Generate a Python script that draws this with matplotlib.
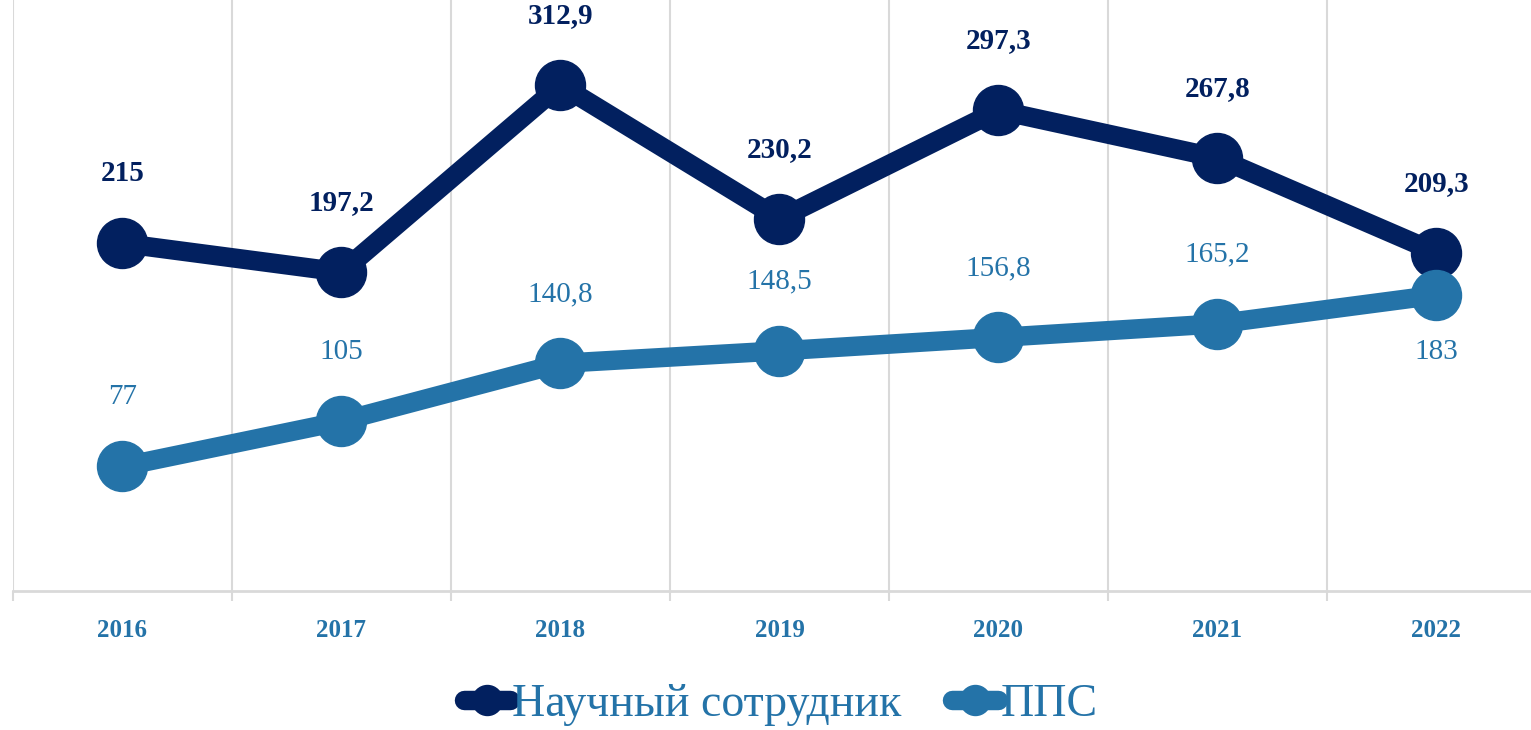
import matplotlib.pyplot as plt

years = ["2016", "2017", "2018", "2019", "2020", "2021", "2022"]
nauch = [215, 197.2, 312.9, 230.2, 297.3, 267.8, 209.3]
pps = [77, 105, 140.8, 148.5, 156.8, 165.2, 183]
series_names = ["Научный сотрудник", "ППС"]

dark = "#02205F"
light = "#2473A8"
grid_c = "#d9d9d9"

plt.rcParams['font.family'] = ['Liberation Serif', 'DejaVu Serif']

fig = plt.figure(figsize=(15.31, 7.3), dpi=100)
ax = fig.add_axes([13 / 1531, 1 - 591 / 730, 7 * 219 / 1531, 591 / 730])

x = list(range(len(years)))
ax.plot(x, nauch, color=dark, lw=14, marker='o', ms=36, solid_capstyle='round',
        label=series_names[0], zorder=3)
ax.plot(x, pps, color=light, lw=14, marker='o', ms=36, solid_capstyle='round',
        label=series_names[1], zorder=3)

def fmt(v):
    s = f"{v:g}"
    return s.replace('.', ',')

for i, v in enumerate(nauch):
    ax.annotate(fmt(v), (i, v), xytext=(0, 50), textcoords='offset points',
                ha='center', va='center', fontsize=21, fontweight='bold', color=dark)
for i, v in enumerate(pps):
    off = -41 if i == len(pps) - 1 else 50
    ax.annotate(fmt(v), (i, v), xytext=(0, off), textcoords='offset points',
                ha='center', va='center', fontsize=21, color=light)

ax.set_xlim(-0.5, len(years) - 0.5)
ax.set_ylim(0, 591 / 1.617)
ax.set_xticks(x)
ax.set_xticklabels(years, fontsize=18, fontweight='bold', color=light)
ax.set_xticks([i - 0.5 for i in range(len(years) + 1)], minor=True)
ax.tick_params(axis='x', which='major', length=0, pad=20)
ax.tick_params(axis='x', which='minor', length=7, width=1.5, color=grid_c)
ax.set_yticks([])
ax.grid(axis='x', which='minor', color=grid_c, lw=1.5)
ax.set_axisbelow(True)
for s in ['top', 'right', 'left']:
    ax.spines[s].set_visible(False)
ax.spines['bottom'].set_color(grid_c)
ax.spines['bottom'].set_linewidth(2)
ax.patch.set_alpha(0)

fig.legend(loc='lower center', bbox_to_anchor=(0.51, -0.051), ncol=2, frameon=False,
           fontsize=33, labelcolor=light, handlelength=1.0, handletextpad=0.05,
           columnspacing=1.1, markerscale=0.6)

fig.savefig("out.png", dpi=100)
